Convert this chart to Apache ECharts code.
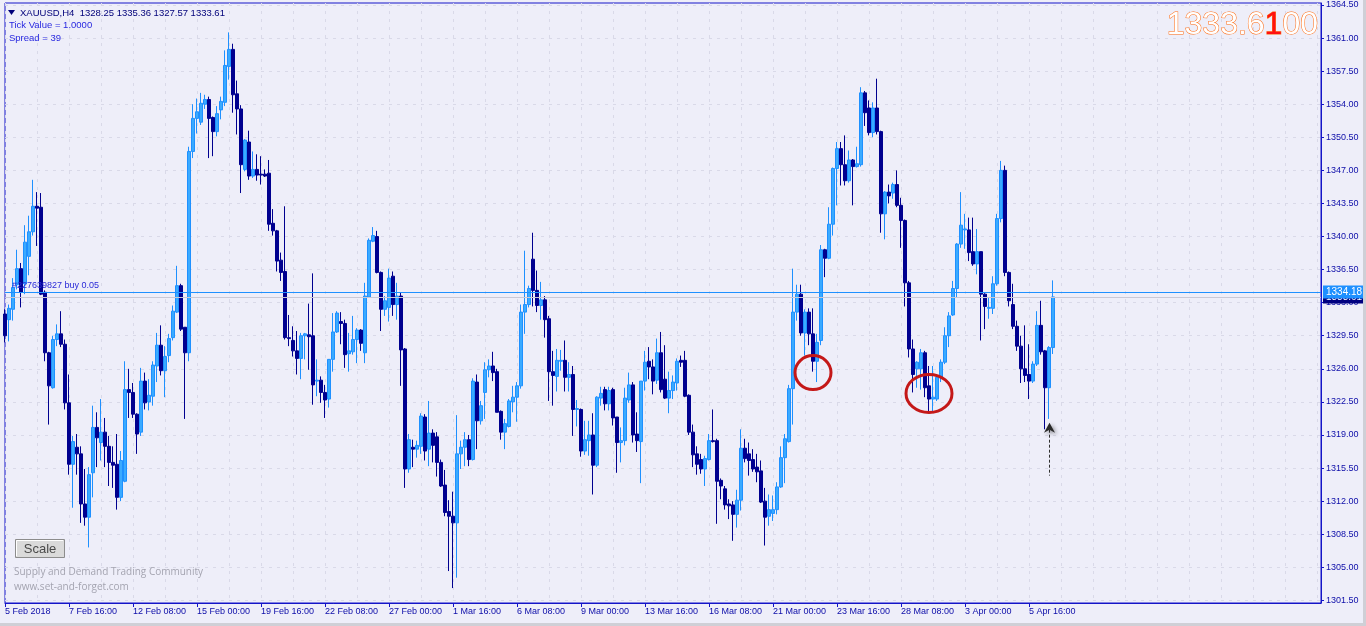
<!DOCTYPE html>
<html><head><meta charset="utf-8">
<script src="https://cdn.jsdelivr.net/npm/echarts@6/dist/echarts.min.js"></script>
<style>html,body{margin:0;padding:0;background:#EEEEF9;}#c{width:1366px;height:626px;}</style>
</head><body><div id="c"></div>
<script>
const tickLabels = ['5 Feb 2018','7 Feb 16:00','12 Feb 08:00','15 Feb 00:00','19 Feb 16:00','22 Feb 08:00','27 Feb 00:00','1 Mar 16:00','6 Mar 08:00','9 Mar 00:00','13 Mar 16:00','16 Mar 08:00','21 Mar 00:00','23 Mar 16:00','28 Mar 08:00','3 Apr 00:00','5 Apr 16:00'];
const priceTicks = [1301.5,1305,1308.5,1312,1315.5,1319,1322.5,1326,1329.5,1333,1336.5,1340,1343.5,1347,1350.5,1354,1357.5,1361,1364.5];

const opens = [
1331.8,1331.2,1332.3,1334.9,1336.6,1335.0,1337.9,1340.5,1343.2,1343.1,
1334.1,1327.7,1324.0,1329.1,1329.7,1328.6,1322.4,1315.9,1317.7,1317.0,
1311.7,1310.3,1315.0,1319.8,1318.2,1319.3,1317.8,1316.1,1315.9,1312.4,
1314.1,1323.8,1323.5,1321.2,1319.3,1324.7,1322.5,1323.1,1326.3,1328.5,
1325.8,1327.4,1329.3,1332.0,1334.8,1330.4,1327.7,1349.0,1352.5,1352.1,
1354.0,1354.5,1352.6,1351.1,1353.4,1354.2,1358.0,1359.8,1355.1,1353.5,
1347.1,1350.0,1346.4,1347.1,1346.6,1346.6,1346.7,1341.4,1340.6,1337.5,
1336.3,1329.3,1329.0,1327.9,1327.1,1329.5,1329.6,1329.5,1324.7,1324.8,
1323.5,1322.8,1327.0,1329.9,1331.0,1330.8,1327.6,1327.8,1329.1,1330.1,
1327.7,1333.6,1339.5,1340.0,1336.2,1332.3,1332.5,1335.8,1332.8,1333.7,
1328.1,1315.4,1317.7,1317.5,1317.8,1320.9,1317.5,1319.2,1318.8,1316.1,
1313.7,1310.9,1310.4,1309.7,1317.0,1317.7,1318.5,1316.4,1324.6,1320.5,
1323.5,1325.9,1326.3,1325.7,1321.5,1319.3,1319.9,1322.5,1323.0,1324.2,
1332.0,1332.8,1337.6,1334.3,1332.7,1333.3,1331.3,1325.7,1325.2,1326.8,
1326.9,1325.1,1325.4,1321.7,1321.7,1317.3,1318.4,1319.0,1315.8,1322.9,
1323.8,1322.3,1323.8,1320.9,1318.2,1318.4,1322.7,1324.3,1319.1,1318.3,
1324.7,1326.8,1326.2,1324.8,1327.7,1324.9,1322.9,1323.7,1324.5,1326.9,
1326.9,1323.2,1319.3,1317.0,1316.4,1315.4,1316.4,1318.4,1318.4,1314.2,
1313.3,1311.7,1311.6,1310.6,1312.1,1317.6,1317.0,1316.4,1315.6,1315.2,
1312.0,1310.4,1310.7,1311.1,1313.5,1316.6,1318.3,1323.9,1332.0,1333.9,
1329.8,1332.0,1329.7,1326.8,1329.0,1338.6,1337.7,1341.3,1347.2,1349.3,
1347.6,1345.9,1348.1,1347.4,1347.6,1355.2,1353.6,1351.0,1353.6,1351.1,
1342.4,1344.7,1344.6,1345.5,1343.3,1341.7,1335.1,1328.1,1326.0,1326.0,
1327.7,1324.2,1322.8,1322.8,1325.1,1326.7,1329.5,1331.7,1334.5,1339.2,
1340.7,1340.7,1338.4,1337.1,1338.4,1333.9,1332.4,1332.4,1335.0,1341.9,
1347.0,1336.2,1332.8,1330.5,1328.4,1326.0,1325.4,1324.7,1326.5,1330.6,
1327.9,1324.0,1328.25];
const closes = [
1329.5,1332.4,1334.6,1336.6,1334.1,1339.4,1340.5,1343.2,1343.0,1333.9,
1327.7,1324.2,1329.1,1329.7,1328.6,1322.4,1315.9,1318.3,1317.0,1311.7,
1310.3,1314.8,1319.8,1318.7,1319.3,1317.8,1316.1,1315.8,1312.4,1316.3,
1323.8,1323.5,1321.2,1319.1,1324.7,1322.4,1323.2,1326.4,1328.5,1325.8,
1327.3,1329.2,1332.1,1334.8,1330.2,1327.7,1349.0,1352.5,1353.2,1354.1,
1354.5,1352.5,1351.1,1353.0,1354.3,1358.1,1359.8,1355.0,1353.5,1347.6,
1350.2,1346.4,1347.1,1346.5,1346.5,1346.4,1341.3,1340.6,1337.4,1336.2,
1329.3,1329.2,1327.9,1327.1,1329.5,1329.7,1329.4,1324.3,1324.8,1323.5,
1322.7,1327.0,1329.9,1331.9,1330.8,1327.5,1327.9,1329.1,1330.1,1328.7,
1333.7,1339.6,1340.1,1336.2,1332.3,1333.2,1335.6,1332.8,1333.7,1328.0,
1315.4,1318.5,1317.5,1317.9,1321.0,1317.3,1319.2,1317.9,1316.1,1313.6,
1310.8,1310.4,1309.7,1317.0,1317.7,1318.5,1316.4,1324.7,1320.5,1322.1,
1325.9,1326.3,1325.6,1321.4,1319.3,1320.2,1322.6,1323.0,1324.2,1332.0,
1332.8,1334.5,1334.3,1332.7,1333.3,1331.2,1325.7,1325.3,1326.9,1326.9,
1325.1,1325.4,1321.7,1321.8,1317.3,1318.5,1319.0,1315.8,1323.0,1323.4,
1322.3,1323.7,1320.8,1318.2,1318.4,1322.9,1324.3,1319.0,1318.4,1324.7,
1326.7,1326.2,1324.7,1327.7,1323.8,1322.9,1323.7,1324.6,1326.8,1326.7,
1323.1,1319.3,1316.9,1315.9,1315.4,1316.5,1318.4,1318.3,1314.1,1313.6,
1311.6,1311.5,1310.6,1312.1,1317.6,1316.5,1316.3,1315.4,1315.1,1311.9,
1310.3,1311.1,1311.1,1313.5,1316.6,1318.6,1323.9,1332.0,1333.9,1329.8,
1332.0,1329.7,1326.8,1328.8,1338.6,1337.7,1341.3,1347.2,1349.3,1347.6,
1345.9,1348.1,1347.4,1347.7,1355.2,1353.1,1351.0,1353.6,1351.1,1342.4,
1344.7,1344.3,1345.5,1343.3,1341.7,1335.1,1328.1,1325.4,1326.7,1327.7,
1324.0,1322.8,1323.0,1325.1,1326.7,1329.5,1331.6,1334.5,1339.2,1341.2,
1340.8,1338.3,1337.1,1338.4,1333.9,1332.6,1332.5,1335.0,1341.9,1347.0,
1336.2,1333.2,1330.5,1328.4,1326.0,1325.3,1324.7,1326.5,1330.6,1327.8,
1324.0,1328.25,1333.61];
const lows = [
1328.8,1328.9,1331.1,1334.4,1332.5,1333.9,1335.9,1340.1,1339.0,1333.8,
1326.8,1320.1,1323.9,1328.4,1328.3,1321.7,1314.8,1311.3,1314.8,1309.7,
1309.4,1307.1,1312.4,1315.6,1316.3,1315.6,1313.6,1313.4,1311.1,1312.0,
1314.0,1320.8,1320.8,1317.0,1318.9,1321.7,1321.6,1322.1,1324.6,1325.3,
1323.0,1326.7,1329.0,1331.9,1330.0,1320.7,1326.8,1348.3,1350.9,1351.8,
1353.5,1348.3,1348.5,1350.6,1352.4,1353.8,1356.6,1353.1,1350.8,1344.6,
1346.9,1346.0,1346.2,1345.9,1345.5,1346.3,1340.6,1340.1,1336.3,1335.3,
1329.1,1328.4,1327.3,1325.4,1324.9,1327.0,1325.9,1322.2,1323.1,1322.4,
1320.8,1321.9,1325.7,1329.8,1328.6,1326.1,1325.7,1327.5,1326.6,1327.9,
1326.6,1333.5,1339.4,1336.1,1330.0,1331.6,1331.0,1331.6,1331.2,1324.2,
1313.4,1315.0,1315.6,1316.6,1317.0,1316.3,1315.7,1316.1,1314.6,1313.5,
1310.4,1304.6,1302.8,1303.9,1315.4,1315.7,1315.7,1316.3,1317.5,1320.1,
1320.7,1325.1,1324.7,1321.4,1318.5,1317.5,1319.8,1321.4,1320.4,1323.9,
1329.7,1332.5,1332.6,1332.0,1331.2,1329.3,1322.6,1322.1,1323.6,1325.8,
1323.6,1323.6,1318.9,1319.9,1316.7,1316.9,1316.8,1312.7,1315.6,1322.1,
1321.6,1321.6,1320.0,1315.0,1316.1,1317.9,1322.4,1318.2,1317.2,1313.9,
1323.7,1324.9,1323.3,1324.4,1323.5,1322.8,1321.3,1322.8,1323.7,1326.2,
1323.0,1319.0,1315.6,1314.8,1314.9,1313.6,1316.3,1318.2,1309.6,1312.2,
1311.1,1310.1,1307.8,1309.2,1311.0,1316.1,1314.7,1315.1,1314.0,1311.8,
1307.3,1309.4,1309.9,1310.6,1313.4,1313.9,1318.2,1320.1,1331.1,1329.5,
1327.4,1328.5,1325.7,1324.6,1328.5,1335.7,1337.6,1340.1,1343.3,1345.4,
1345.4,1345.7,1343.3,1347.3,1347.4,1351.7,1350.7,1350.5,1350.8,1340.4,
1339.7,1343.5,1344.0,1343.1,1338.8,1332.6,1327.2,1323.5,1324.0,1323.8,
1323.0,1321.4,1321.4,1322.6,1324.6,1326.5,1328.3,1331.6,1333.5,1338.8,
1338.7,1337.4,1336.9,1336.0,1329.0,1330.2,1331.3,1331.8,1334.8,1341.5,
1335.8,1332.6,1330.2,1327.9,1324.5,1324.6,1322.8,1324.5,1326.3,1327.5,
1319.6,1320.7,1327.57];
const highs = [
1332.3,1332.8,1335.6,1338.6,1337.2,1341.2,1342.2,1346.0,1344.7,1344.6,
1334.3,1327.8,1329.5,1330.7,1332.1,1329.1,1325.4,1318.9,1319.1,1317.8,
1315.4,1315.6,1322.1,1321.4,1322.8,1320.8,1318.9,1317.8,1319.1,1317.3,
1326.8,1326.0,1324.5,1321.3,1326.1,1325.6,1324.9,1326.8,1329.8,1330.6,
1328.4,1329.7,1332.7,1336.9,1335.0,1330.4,1349.5,1354.0,1354.6,1355.2,
1355.0,1354.8,1352.7,1353.8,1354.8,1359.7,1361.6,1360.4,1356.5,1353.9,
1350.3,1351.2,1349.0,1348.7,1348.5,1347.1,1348.1,1342.9,1340.7,1338.3,
1343.2,1331.7,1330.5,1330.0,1329.8,1329.8,1332.9,1336.1,1327.0,1325.2,
1324.3,1327.0,1331.9,1332.1,1332.0,1331.2,1329.8,1331.6,1330.3,1330.2,
1335.1,1339.8,1341.0,1340.6,1336.3,1333.7,1336.6,1336.3,1335.1,1334.1,
1328.2,1319.1,1318.5,1318.4,1321.3,1321.2,1322.6,1319.6,1319.3,1316.4,
1315.3,1312.1,1313.0,1321.1,1318.4,1319.3,1319.0,1325.0,1325.4,1322.6,
1326.7,1327.0,1327.8,1326.0,1321.6,1320.7,1322.8,1324.2,1324.6,1332.8,
1338.5,1334.8,1340.4,1336.4,1335.2,1333.7,1331.6,1327.9,1328.1,1328.0,
1329.0,1326.7,1326.3,1322.7,1321.8,1320.5,1320.5,1321.3,1323.1,1324.1,
1324.1,1324.1,1324.0,1320.9,1319.8,1324.0,1325.6,1324.6,1321.4,1324.7,
1327.9,1328.3,1327.0,1329.2,1329.9,1328.5,1325.7,1325.3,1327.1,1327.4,
1327.9,1323.3,1320.1,1317.8,1317.0,1316.8,1319.1,1321.7,1318.6,1314.4,
1313.6,1312.2,1312.0,1313.2,1319.6,1318.6,1318.2,1317.5,1317.0,1316.3,
1313.4,1312.7,1312.6,1314.0,1317.8,1319.1,1324.3,1336.6,1334.9,1334.9,
1332.3,1332.4,1332.4,1329.7,1339.1,1338.7,1343.1,1347.3,1350.0,1350.0,
1350.7,1349.1,1348.2,1349.5,1355.8,1355.4,1354.4,1354.2,1356.7,1351.2,
1344.8,1345.5,1345.7,1347.0,1344.1,1341.8,1335.3,1329.1,1326.8,1328.1,
1327.9,1326.3,1326.3,1325.2,1327.0,1330.4,1332.0,1335.3,1339.3,1344.7,
1342.4,1342.0,1342.0,1340.8,1338.4,1334.0,1333.5,1335.8,1342.4,1348.0,
1347.5,1336.3,1335.0,1331.1,1329.5,1330.6,1328.6,1326.8,1332.1,1333.2,
1328.0,1328.4,1335.36];

const tradeLine = 1334.18;
const bidLine = 1333.61;
const symbolText = 'XAUUSD,H4';
const ohlcText = '1328.25 1335.36 1327.57 1333.61';
const circleMarks = [{bar:202, price:1325.6, rx:18, ry:17}, {bar:231, price:1323.4, rx:23, ry:19}];
const arrowMark = {bar:261, tip:1320.3, tail:1314.7};

const slotCount = 330;
const categories = Array.from({length: slotCount}, (_, i) => String(i));
const candles = opens.map((o, i) => [o, closes[i], lows[i], highs[i]]);

const AX = '#1414C8', LBL = '#0C0CA8', GRID = '#D9D9E8';
const chart = echarts.init(document.getElementById('c'), null, {renderer: 'canvas'});
chart.setOption({
  animation: false,
  backgroundColor: '#EEEEF9',
  grid: {left: 5, right: 45, top: 3, bottom: 23, show: true, borderColor: AX, borderWidth: 1},
  xAxis: {
    type: 'category', data: categories, boundaryGap: false,
    axisLine: {lineStyle: {color: AX}},
    axisTick: {show: true, length: 4, lineStyle: {color: AX}, interval: (i) => i % 16 === 0 && i / 16 < tickLabels.length},
    axisLabel: {interval: 15, align: 'left', margin: 4, fontSize: 9, fontFamily: 'Liberation Sans', color: LBL,
      formatter: (v, idx) => tickLabels[idx / 16] || ''},
    splitLine: {show: true, interval: 7, lineStyle: {color: GRID, type: [3, 5]}}
  },
  yAxis: {
    type: 'value', position: 'right', min: 1301.22, max: 1364.71, scale: true,
    axisLine: {show: true, lineStyle: {color: AX}},
    axisTick: {show: true, length: 3, customValues: priceTicks, lineStyle: {color: AX}},
    axisLabel: {customValues: priceTicks, formatter: (v) => Number(v).toFixed(2), fontSize: 9, margin: 5, fontFamily: 'Liberation Sans', color: LBL},
    splitLine: {show: true, lineStyle: {color: GRID, type: [3, 5]}}
  },
  series: [{
    type: 'candlestick', data: candles, barWidth: 3,
    itemStyle: {color: '#3AAAFF', color0: '#00008F', borderColor: '#1E90FF', borderColor0: '#00008F', borderWidth: 1}
  }]
});

const px = (bar, price) => chart.convertToPixel({xAxisIndex: 0, yAxisIndex: 0}, [bar, price]);
const g = [];
const xL = px(0, tradeLine)[0], xR = px(slotCount - 1, tradeLine)[0];
// bid line + label
const by = Math.round(px(0, bidLine)[1]) + 0.5;
g.push({type: 'line', shape: {x1: xL, y1: by, x2: xR, y2: by}, style: {stroke: '#C8C8D6', lineWidth: 1}, z: 90});
g.push({type: 'rect', shape: {x: xR + 2, y: by - 6, width: 40, height: 12}, style: {fill: '#000080'}, z: 95});
g.push({type: 'text', x: xR + 5, y: by, style: {text: bidLine.toFixed(2), fill: '#FFFFFF', fontSize: 10, fontFamily: 'Liberation Sans', verticalAlign: 'middle'}, z: 96});
// trade line + label
const ty = Math.round(px(0, tradeLine)[1]) + 0.5;
g.push({type: 'line', shape: {x1: xL, y1: ty, x2: xR, y2: ty}, style: {stroke: '#1E90FF', lineWidth: 1}, z: 91});
g.push({type: 'rect', shape: {x: xR + 2, y: ty - 7, width: 40, height: 13}, style: {fill: '#1E90FF'}, z: 97});
g.push({type: 'text', x: xR + 5, y: ty, style: {text: tradeLine.toFixed(2), fill: '#FFFFFF', fontSize: 10, fontFamily: 'Liberation Sans', verticalAlign: 'middle'}, z: 98});
g.push({type: 'text', x: 12, y: ty - 2, style: {text: '#227639827 buy 0.05', fill: '#2A2AD8', fontSize: 9, fontFamily: 'Liberation Sans', verticalAlign: 'bottom'}, z: 100});
circleMarks.forEach(c => {
  const p = px(c.bar, c.price);
  g.push({type: 'ellipse', shape: {cx: p[0], cy: p[1], rx: c.rx, ry: c.ry}, style: {fill: 'none', stroke: '#C41818', lineWidth: 3}, z: 100});
});
const tip = px(arrowMark.bar, arrowMark.tip), tail = px(arrowMark.bar, arrowMark.tail);
g.push({type: 'line', shape: {x1: tip[0] + 0.5, y1: tip[1] + 7, x2: tail[0] + 0.5, y2: tail[1]}, style: {stroke: '#303030', lineWidth: 1, lineDash: [3, 2]}, z: 100});
g.push({type: 'polygon', shape: {points: [[tip[0] + 0.5, tip[1]], [tip[0] - 5, tip[1] + 10], [tip[0] + 0.5, tip[1] + 7], [tip[0] + 6, tip[1] + 10]]},
  style: {fill: '#2A2A2A', shadowBlur: 4, shadowColor: 'rgba(0,0,0,0.45)', shadowOffsetX: 2, shadowOffsetY: 2}, z: 100});
// header
g.push({type: 'polygon', shape: {points: [[8, 10], [15, 10], [11.5, 15]]}, style: {fill: '#00007A'}, z: 100});
g.push({type: 'text', x: 20, y: 13, style: {text: symbolText + '  ' + ohlcText, fill: '#00007A', fontSize: 9.5, fontFamily: 'Liberation Sans', verticalAlign: 'middle'}, z: 100});
g.push({type: 'text', x: 9, y: 25.5, style: {text: 'Tick Value = 1.0000', fill: '#2828E0', fontSize: 9.5, fontFamily: 'Liberation Sans', verticalAlign: 'middle'}, z: 100});
g.push({type: 'text', x: 9, y: 38, style: {text: 'Spread = 39', fill: '#2828E0', fontSize: 9.5, fontFamily: 'Liberation Sans', verticalAlign: 'middle'}, z: 100});
// big price
g.push({type: 'text', x: 1318, y: 25, z: 100, style: {
  text: '{a|1333.6}{b|1}{a|00}', align: 'right', verticalAlign: 'middle',
  rich: {
    a: {fontSize: 32, fontFamily: 'Liberation Sans', fill: '#FFFFFF', stroke: '#FF6A10', lineWidth: 1},
    b: {fontSize: 32, fontFamily: 'Liberation Sans', fill: '#FF1010', stroke: '#FF6A10', lineWidth: 1}
  }}});
// scale button
g.push({type: 'rect', shape: {x: 15.5, y: 539.5, width: 49, height: 18}, style: {fill: '#DADADA', stroke: '#8C8C8C', lineWidth: 1}, z: 100});
g.push({type: 'polyline', shape: {points: [[16.5, 556], [16.5, 540.5], [63, 540.5]]}, style: {stroke: '#FFFFFF', lineWidth: 1, fill: null}, z: 101});
g.push({type: 'text', x: 40, y: 549, style: {text: 'Scale', fill: '#4A4A4A', fontSize: 13, fontFamily: 'Liberation Sans', align: 'center', verticalAlign: 'middle'}, z: 101});
g.push({type: 'text', x: 14, y: 572, style: {text: 'Supply and Demand Trading Community', fill: '#A4A4B0', fontSize: 10, fontFamily: 'Open Sans', verticalAlign: 'middle'}, z: 100});
g.push({type: 'text', x: 14, y: 587, style: {text: 'www.set-and-forget.com', fill: '#A4A4B0', fontSize: 10, fontFamily: 'Open Sans', verticalAlign: 'middle'}, z: 100});
// window edges
g.push({type: 'rect', shape: {x: 1363, y: 0, width: 3, height: 626}, style: {fill: '#CFCFD6'}, z: 100});
g.push({type: 'rect', shape: {x: 0, y: 623, width: 1366, height: 3}, style: {fill: '#CFCFD6'}, z: 100});
chart.setOption({graphic: g});
</script></body></html>
